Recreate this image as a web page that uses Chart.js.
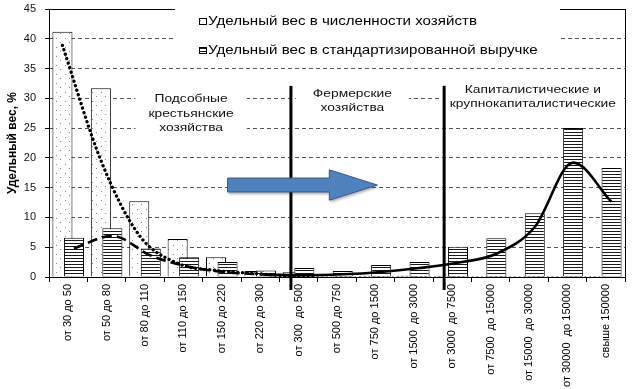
<!DOCTYPE html>
<html lang="ru">
<head>
<meta charset="UTF-8">
<title>Удельный вес хозяйств</title>
<script src="https://cdn.jsdelivr.net/npm/chart.js@4.4.1/dist/chart.umd.min.js"></script>
<style>
    body { margin: 0; background: #fff; }
    #wrap { width: 641px; height: 389px; }
</style>
</head>
<body>
<div id="wrap"><canvas id="chart" width="641" height="389"></canvas></div>
<script>
    // categories (size groups) and values, %
    var categories = ['от 30 до 50', 'от 50 до 80', 'от 80 до 110', 'от 110 до 150', 'от 150 до 220',
        'от 220 до 300', 'от 300  до 500', 'от 500 до 750', 'от 750 до 1500', 'от 1500  до 3000',
        'от 3000  до 7500', 'от 7500  до 15000', 'от 15000  до 30000', 'от 30000  до 150000', 'свыше 150000'];
    var shareCount = [41.2, 31.7, 12.7, 6.4, 3.3, 1.0, 0.8, 0.3, 0.2, 0.2, 0.2, 0.1, 0.1, 0.1, 0.1];
    var shareRevenue = [6.6, 8.2, 4.8, 3.3, 2.5, 1.1, 1.5, 1.0, 2.0, 2.5, 5.1, 6.5, 10.7, 25.0, 18.3];
    // trend curves
    var trendCount = [38.9, 19.6, 7.0, 2.3, 1.1, 0.6, 0.1, -0.2, -0.2, -0.2, -0.2, -0.2, -0.2, -0.2, -0.2];
    var trendRevenueSmall = [4.8, 6.9, 3.6, 1.7, 0.8, 0.4, null, null, null, null, null, null, null, null, null];
    var trendRevenueLarge = [null, null, null, null, null, 0.4, 0.3, 0.45, 0.85, 1.5, 2.4, 3.9, 8.4, 19.2, 12.6];
    var yTicks = { min: 0, max: 45, step: 5 };

    var legendLabels = ['Удельный вес в численности хозяйств', 'Удельный вес в стандартизированной выручке'];
    var notes = [
        { lines: ['Подсобные', 'крестьянские', 'хозяйства'], x: 3.2, y: 29.9, padX: 13, padY: 9 },
        { lines: ['Фермерские', 'хозяйства'], x: 7.4, y: 30.8, padX: 17, padY: 9 },
        { lines: ['Капиталистические и', 'крупнокапиталистические'], x: 12.1, y: 31.5, padX: 8, padY: 12 }
    ];
    var dividers = [5.8, 9.79];
    var arrow = { from: 4.15, to: 8.05, head: 6.8, y: 15.45, shaft: 1.17, wing: 2.55 };
    var slot = 0.15;   // half the distance between the two bars of a group, in categories

    var FONT = '"Liberation Sans", Arial, sans-serif';
    var SX = 1.2;   // the source picture is a bit wider than tall
    Chart.defaults.font.family = FONT;
    Chart.defaults.color = '#000';

    function makePattern(w, h, draw) {
        var c = document.createElement('canvas');
        c.width = w; c.height = h;
        var g = c.getContext('2d');
        g.fillStyle = '#fff';
        g.fillRect(0, 0, w, h);
        draw(g);
        return g.createPattern(c, 'repeat');
    }
    var dotFill = makePattern(9, 9, function (g) {
        g.fillStyle = '#8a8a8a';
        g.fillRect(2, 2, 1, 1);
        g.fillRect(6, 6, 1, 1);
    });
    var stripeFill = makePattern(4, 3, function (g) {
        g.fillStyle = '#1a1a1a';
        g.fillRect(0, 0, 4, 1);
    });

    function points(values, shift) {
        var out = [];
        values.forEach(function (v, i) {
            if (v !== null) out.push({ x: i + shift, y: v });
        });
        return out;
    }

    function stretchText(c, text, x, y, align) {
        c.save();
        c.translate(x, y);
        c.scale(SX, 1);
        c.textAlign = align;
        c.fillText(text, 0, 0);
        c.restore();
    }

    // white boxes with the group names, dividers, arrow and legend
    var notesPlugin = {
        id: 'notes',
        beforeDatasetsDraw: function (chart) {
            var c = chart.ctx, xs = chart.scales.xl, ys = chart.scales.y;
            var lh = 14.5;
            c.save();
            c.font = '11.5px ' + FONT;
            c.textBaseline = 'middle';
            notes.forEach(function (n) {
                var cx = xs.getPixelForValue(n.x), top = ys.getPixelForValue(n.y);
                var w = 0;
                n.lines.forEach(function (t) { w = Math.max(w, c.measureText(t).width * SX); });
                c.fillStyle = '#fff';
                c.fillRect(cx - w / 2 - n.padX, top - lh / 2 - n.padY, w + 2 * n.padX, lh * n.lines.length + 2 * n.padY);
                c.fillStyle = '#111';
                n.lines.forEach(function (t, i) { stretchText(c, t, cx, top + i * lh, 'center'); });
            });
            c.restore();
        },
        afterDatasetsDraw: function (chart) {
            var c = chart.ctx, xs = chart.scales.xl, ys = chart.scales.y;
            c.save();
            c.strokeStyle = '#000';
            c.lineWidth = 3;
            dividers.forEach(function (d) {
                var x = xs.getPixelForValue(d);
                c.beginPath();
                c.moveTo(x, ys.getPixelForValue(32.1));
                c.lineTo(x, ys.bottom + 13);
                c.stroke();
            });
            var x0 = xs.getPixelForValue(arrow.from), x1 = xs.getPixelForValue(arrow.to), xh = xs.getPixelForValue(arrow.head);
            var yc = ys.getPixelForValue(arrow.y);
            var s = ys.getPixelForValue(arrow.y - arrow.shaft) - yc;
            var wg = ys.getPixelForValue(arrow.y - arrow.wing) - yc;
            c.beginPath();
            c.moveTo(x0, yc - s);
            c.lineTo(xh, yc - s);
            c.lineTo(xh, yc - wg);
            c.lineTo(x1, yc);
            c.lineTo(xh, yc + wg);
            c.lineTo(xh, yc + s);
            c.lineTo(x0, yc + s);
            c.closePath();
            c.shadowColor = 'rgba(0,0,0,0.35)';
            c.shadowBlur = 3;
            c.shadowOffsetX = 1;
            c.shadowOffsetY = 2;
            c.fillStyle = '#4f81bd';
            c.fill();
            c.shadowColor = 'transparent';
            c.lineWidth = 1;
            c.strokeStyle = '#385d8a';
            c.stroke();
            c.restore();
        },
        afterDraw: function (chart) {
            var c = chart.ctx, a = chart.chartArea;
            var fills = [dotFill, stripeFill];
            c.save();
            c.fillStyle = '#fff';
            c.fillRect(a.left + 126, 0, 385, a.top + 52);
            c.font = '12.6px ' + FONT;
            c.textBaseline = 'middle';
            legendLabels.forEach(function (t, i) {
                var y = a.top + 13 + i * 29;
                c.fillStyle = fills[i];
                c.fillRect(a.left + 150.5, y - 3.5, 7, 6);
                c.strokeStyle = '#000';
                c.lineWidth = 1;
                c.strokeRect(a.left + 150.5, y - 3.5, 7, 6);
                c.fillStyle = '#000';
                stretchText(c, t, a.left + 159, y, 'left');
            });
            c.restore();
        }
    };

    // bars sit on a hidden linear axis; width = gap between the two bars * 1.74
    var barStyle = { xAxisID: 'xl', grouped: false, categoryPercentage: 1, barPercentage: 1.74, borderColor: '#000', borderWidth: 1 };

    function noPad(s) { s.paddingTop = 0; s.paddingBottom = 0; }

    new Chart(document.getElementById('chart'), {
        type: 'bar',
        data: {
            labels: categories,
            datasets: [
                { type: 'line', label: 'trend1', data: points(trendCount, -slot), xAxisID: 'xl',
                  borderColor: '#000', borderWidth: 3.3, borderDash: [0.1, 4.6], borderCapStyle: 'round',
                  pointRadius: 0, cubicInterpolationMode: 'monotone', fill: false },
                { type: 'line', label: 'trend2', data: points(trendRevenueSmall, slot), xAxisID: 'xl',
                  borderColor: '#000', borderWidth: 2.6, borderDash: [10, 5],
                  pointRadius: 0, cubicInterpolationMode: 'monotone', fill: false },
                { type: 'line', label: 'trend3', data: points(trendRevenueLarge, slot), xAxisID: 'xl',
                  borderColor: '#000', borderWidth: 2.6,
                  pointRadius: 0, cubicInterpolationMode: 'monotone', fill: false },
                Object.assign({ label: legendLabels[1], data: points(shareRevenue, slot), backgroundColor: stripeFill }, barStyle),
                Object.assign({ label: legendLabels[0], data: points(shareCount, -slot), backgroundColor: dotFill }, barStyle)
            ]
        },
        options: {
            responsive: false,
            animation: false,
            layout: { padding: { left: 0, right: 16, top: 9, bottom: 0 } },
            plugins: {
                legend: { display: false },
                tooltip: { enabled: false }
            },
            scales: {
                x: {
                    type: 'category', labels: categories, position: 'bottom', offset: true,
                    grid: { offset: true, drawOnChartArea: false, tickLength: 5, tickColor: '#000' },
                    border: { color: '#000' },
                    ticks: { autoSkip: false, minRotation: 90, maxRotation: 90, padding: 2, font: { size: 11 }, color: '#000' },
                    afterFit: function (s) { s.height = 112; }
                },
                xl: { type: 'linear', min: -0.5, max: 14.5, offset: false, display: false },
                y: {
                    min: yTicks.min, max: yTicks.max,
                    ticks: { stepSize: yTicks.step, padding: 9, font: { size: 11 }, color: '#111' },
                    grid: {
                        color: function (ctx) { return ctx.tick && ctx.tick.value === yTicks.max ? '#000' : '#555'; },
                        tickLength: 4, tickColor: '#000'
                    },
                    border: {
                        color: '#000',
                        dash: function (ctx) { return ctx.tick && ctx.tick.value === yTicks.max ? [] : [4, 3]; }
                    },
                    title: { display: true, text: 'Удельный вес, %', font: { size: 12, weight: 'bold' }, padding: { top: 5, bottom: 0 } },
                    afterFit: function (s) { s.width = 49; noPad(s); }
                },
                y2: {
                    position: 'right', min: yTicks.min, max: yTicks.max,
                    ticks: { display: false },
                    grid: { drawOnChartArea: false, drawTicks: false },
                    border: { color: '#000' },
                    afterFit: function (s) { s.width = 0; noPad(s); }
                }
            }
        },
        plugins: [notesPlugin]
    });
</script>
</body>
</html>
